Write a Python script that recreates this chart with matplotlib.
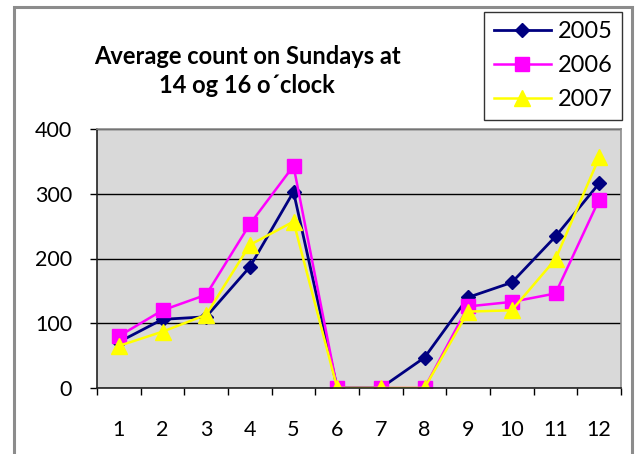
import matplotlib.pyplot as plt
from matplotlib.patches import Rectangle

plt.rcParams['font.family'] = ['Lato', 'DejaVu Sans']

months = [1, 2, 3, 4, 5, 6, 7, 8, 9, 10, 11, 12]
y2005 = [71, 106, 110, 187, 303, 0, 0, 47, 140, 163, 234, 316]
y2006 = [80, 120, 144, 253, 343, 0, 0, 0, 126, 133, 146, 291]
y2007 = [65, 87, 113, 221, 257, 0, 0, 0, 118, 120, 199, 356]

W, H = 637, 454
fig = plt.figure(figsize=(W / 100, H / 100), dpi=100)

# outer chart frame
fig.patches.append(Rectangle((14 / W, -0.1), 618 / W, 1.1 - 7 / H, transform=fig.transFigure,
                             fill=False, edgecolor='#8c8c8c', linewidth=2.2))

ax = fig.add_axes([97 / W, 1 - 388 / H, 524 / W, 259 / H])
ax.set_facecolor('#d9d9d9')

ax.plot(months, y2005, color='#000080', marker='D', markersize=7, linewidth=2, label='2005')
ax.plot(months, y2006, color='#ff00ff', marker='s', markersize=10.5, linewidth=1.8, label='2006')
ax.plot(months, y2007, color='#ffff00', marker='^', markersize=11, linewidth=1.8, label='2007')

ax.set_xlim(0.5, 12.5)
ax.set_ylim(0, 400)
ax.set_yticks([0, 100, 200, 300, 400])
ax.set_xticks(months)
ax.set_xticks([m + 0.5 for m in [0] + months], minor=True)
ax.tick_params(axis='x', which='major', length=0, pad=23, labelsize=15.5)
ax.tick_params(axis='x', which='minor', length=5, width=1, direction='out')
ax.tick_params(axis='y', length=5, width=1, direction='out', pad=13, labelsize=15.5)
ax.grid(axis='y', color='black', linewidth=1)
ax.set_axisbelow(True)
for s in ['top', 'right']:
    ax.spines[s].set_color('#8c8c8c')
    ax.spines[s].set_linewidth(1.2)
for s in ['left', 'bottom']:
    ax.spines[s].set_color('#222222')
    ax.spines[s].set_linewidth(1.2)

fig.text(247 / W, 1 - 71 / H, 'Average count on Sundays at\n14 og 16 o\u00b4clock', ha='center', va='center',
         fontsize=17, fontweight='bold', linespacing=1.3)

leg = fig.legend(loc='upper right', bbox_to_anchor=(622 / W, 1 - 12 / H), fontsize=17,
                 frameon=True, fancybox=False, edgecolor='black', handlelength=2.4,
                 borderpad=0.4, labelspacing=0.55, handletextpad=0.3, borderaxespad=0)
leg.get_frame().set_linewidth(1)

fig.savefig('out.png', dpi=100)
